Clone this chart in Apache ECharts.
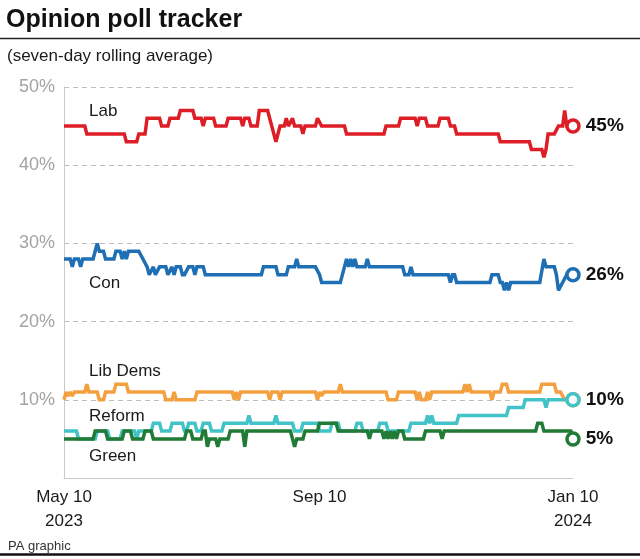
<!DOCTYPE html>
<html>
<head>
<meta charset="utf-8">
<script src="https://cdn.jsdelivr.net/npm/echarts@6/dist/echarts.min.js"></script>
<style>
html,body{margin:0;padding:0;background:#fff;}
#chart{width:640px;height:559px;}
</style>
</head>
<body>
<div id="chart"></div>
<script>
// Days counted from May 10 2023 (day 0) to Jan 10 2024 (day 245)
const xTickDays = [0, 123, 245];
const xTickLabels = ['May 10\n2023', 'Sep 10', 'Jan 10\n2024'];
const yTickValues = [10, 20, 30, 40, 50];

const seriesNames = ['Lab', 'Con', 'Lib Dems', 'Reform', 'Green'];
const seriesColors = ['#dd1e26', '#1f6fb4', '#f5a03f', '#42c3c8', '#217a35'];
const endLabelShown = [true, true, false, true, true];

const lab = [[0,45],[10,45],[11,44],[29,44],[30,43],[35,43],[36,44],[39,44],[40,46],[46,46],[47,45],[50,45],[51,46],[55,46],[56,47],[62,47],[63,46],[66,46],[67,45],[68,46],[72,46],[73,45],[78,45],[79,46],[85,46],[86,45],[87,46],[89,46],[90,45],[93,45],[94,47],[98,47],[100,45],[102,43],[104,45],[106,45],[107,46],[108,45],[110,46],[111,45],[114,45],[115,44],[116,45],[121,45],[122,46],[124,45],[135,45],[136,44],[154,44],[155,45],[161,45],[162,46],[169,46],[170,45],[171,46],[174,46],[175,45],[180,45],[181,46],[185,46],[186,45],[188,45],[189,44],[209,44],[210,43],[224,43],[225,42],[230,42],[231,41],[232,42],[233,44],[236,44],[238,45],[240,45],[241,47],[242,45],[245,45]];

const con = [[0,28],[3,28],[4,27],[5,28],[7,28],[8,27],[9,28],[14,28],[15,29],[16,30],[17,29],[19,29],[20,28],[24,28],[25,29],[27,29],[28,28],[29,29],[30,28],[31,29],[36,29],[38,28],[40,27],[41,26],[43,27],[44,26],[46,27],[49,27],[50,26],[52,27],[53,26],[54,27],[56,27],[57,26],[58,26],[60,27],[62,27],[63,26],[64,27],[67,27],[68,26],[95,26],[96,27],[102,27],[103,26],[107,26],[108,27],[111,27],[112,28],[113,27],[121,27],[123,26],[124,25],[133,25],[135,27],[136,28],[137,27],[138,28],[139,27],[140,28],[141,27],[145,27],[146,28],[147,27],[163,27],[164,26],[166,26],[167,27],[168,26],[185,26],[186,25],[187,26],[188,26],[189,25],[205,25],[206,26],[209,26],[210,25],[211,25],[212,24],[213,25],[214,24],[215,25],[229,25],[231,28],[232,27],[236,27],[237,26],[238,24],[239,24.5],[240,25],[242,26],[245,26]];

const libDem = [[0,10],[1,11],[2,10.5],[3,11],[4,10.5],[5,11],[10,11],[11,12],[12,11],[16,11],[17,10],[19,10],[20,11],[24,11],[25,12],[30,12],[31,11],[48,11],[49,10],[52,10],[53,11],[54,10],[63,10],[64,11],[81,11],[82,10],[83,11],[84,10],[85,11],[98,11],[99,10],[100,11],[103,11],[104,10],[105,11],[121,11],[122,10],[123,11],[124,10.5],[125,11],[132,11],[133,12],[134,11],[155,11],[156,10],[160,10],[161,11],[169,11],[170,10],[171,11],[172,10],[174,10],[175,11],[176,10],[177,11],[192,11],[193,12],[194,11],[195,12],[196,11],[205,11],[206,10],[207,11],[210,11],[211,12],[213,12],[214,11],[229,11],[230,12],[236,12],[237,11],[239,11],[241,10],[245,10]];

const reform = [[0,6],[6,6],[7,5],[15,5],[16,6],[21,6],[22,5],[27,5],[28,6],[34,6],[35,5],[36,6],[42,6],[43,7],[46,7],[47,6],[51,6],[52,7],[57,7],[58,6],[59,6],[60,7],[63,7],[64,6],[66,6],[67,7],[70,7],[71,6],[76,6],[77,7],[88,7],[89,8],[90,7],[101,7],[102,8],[103,7],[110,7],[111,6],[114,6],[115,7],[122,7],[123,6],[128,6],[129,7],[132,7],[133,6],[140,6],[141,7],[143,7],[144,6],[151,6],[152,7],[155,7],[156,6],[166,6],[167,7],[174,7],[175,8],[176,7],[177,8],[178,7],[189,7],[190,8],[213,8],[214,9],[221,9],[222,10],[231,10],[232,9],[233,10],[245,10]];

const green = [[0,5],[14,5],[15,6],[20,6],[21,5],[28,5],[29,6],[32,6],[33,5],[38,5],[39,6],[42,6],[43,5],[58,5],[59,6],[61,6],[62,5],[66,5],[67,6],[68,6],[69,4],[70,5],[73,5],[74,4],[75,5],[79,5],[80,6],[86,6],[87,4],[88,6],[109,6],[110,5],[111,4],[112,5],[115,5],[116,6],[122,6],[123,7],[131,7],[132,6],[146,6],[147,5],[148,6],[153,6],[154,5],[155,6],[156,5],[157,6],[158,5],[159,6],[160,5],[161,6],[163,6],[164,5],[173,5],[174,6],[181,6],[182,5],[183,6],[227,6],[228,7],[230,7],[231,6],[244,6],[245,5]];

const seriesData = [lab, con, libDem, reform, green];

const FONT = '"Liberation Sans", Arial, sans-serif';
const chart = echarts.init(document.getElementById('chart'), null, {renderer: 'canvas'});

const seriesLabelPos = [[89,111],[89,283],[89,371],[89,416],[89,456]];

const option = {
  animation: false,
  backgroundColor: '#fff',
  grid: {left: 64, right: 67, top: 87, bottom: 81, containLabel: false},
  xAxis: {
    type: 'value', min: 0, max: 245,
    axisLine: {show: true, lineStyle: {color: '#c9c9c9', width: 1}},
    axisTick: {show: false},
    splitLine: {show: false},
    axisLabel: {
      customValues: xTickDays,
      showMinLabel: true, showMaxLabel: true,
      margin: 7, lineHeight: 24,
      fontFamily: FONT, fontSize: 17, color: '#1a1a1a',
      formatter: function (v) {
        const i = xTickDays.findIndex(d => Math.abs(d - v) < 1.5);
        return i >= 0 ? xTickLabels[i] : '';
      }
    }
  },
  yAxis: {
    type: 'value', min: 0, max: 50, interval: 10,
    axisLine: {show: true, lineStyle: {color: '#c9c9c9', width: 1}},
    axisTick: {show: false},
    splitLine: {show: true, lineStyle: {color: '#bdbdbd', type: [5, 4], width: 1}},
    axisLabel: {
      margin: 9, fontFamily: FONT, fontSize: 18, color: '#a3a3a3',
      formatter: v => yTickValues.indexOf(v) >= 0 ? v + '%' : ''
    }
  },
  series: seriesData.map((d, i) => ({
    type: 'line',
    name: seriesNames[i],
    data: d,
    symbol: 'none',
    z: 3 + i,
    lineStyle: {width: 3.5, color: seriesColors[i], cap: 'butt', join: 'miter', miterLimit: 1.5},
    itemStyle: {color: seriesColors[i]},
    markPoint: {
      symbol: 'circle',
      symbolSize: 12,
      z: 10 + i,
      itemStyle: {color: '#fff', borderColor: seriesColors[i], borderWidth: 3.5},
      label: {
        show: endLabelShown[i], position: 'right', distance: 5,
        fontFamily: FONT, fontSize: 19, fontWeight: 'bold', color: '#111',
        formatter: p => p.value + '%'
      },
      data: [{coord: d[d.length - 1], value: d[d.length - 1][1]}]
    }
  })),
  graphic: [
    {type: 'text', style: {x: 6, y: 20, text: 'Opinion poll tracker', font: 'bold 25px ' + FONT, fill: '#111', verticalAlign: 'middle', align: 'left'}},
    {type: 'line', shape: {x1: 0, y1: 38.5, x2: 640, y2: 38.5}, style: {stroke: '#222', lineWidth: 1.5}},
    {type: 'text', style: {x: 7, y: 56, text: '(seven-day rolling average)', font: '17px ' + FONT, fill: '#1a1a1a', verticalAlign: 'middle', align: 'left'}},
    ...seriesNames.map((n, i) => ({type: 'text', z: 50, style: {x: seriesLabelPos[i][0], y: seriesLabelPos[i][1], text: n, font: '17px ' + FONT, fill: '#1a1a1a', verticalAlign: 'middle', align: 'left'}})),
    {type: 'text', style: {x: 8, y: 546, text: 'PA graphic', font: '13px ' + FONT, fill: '#333', verticalAlign: 'middle', align: 'left'}},
    {type: 'line', shape: {x1: 0, y1: 554.5, x2: 640, y2: 554.5}, style: {stroke: '#111', lineWidth: 2.5}}
  ]
};
chart.setOption(option);
</script>
</body>
</html>
